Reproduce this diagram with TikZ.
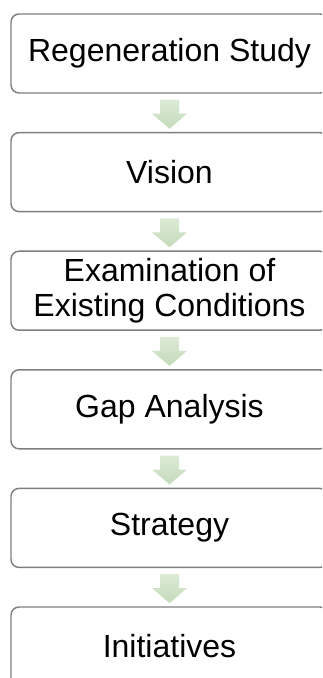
\documentclass[tikz,border=0pt]{standalone}
\usepackage{fontspec}
\setmainfont{Liberation Sans}
\usetikzlibrary{calc}
\definecolor{boxline}{HTML}{7F7F7F}
\definecolor{arrtop}{HTML}{DCEAD6}
\definecolor{arrbot}{HTML}{C4DBB9}
\tikzset{
  stepbox/.style={draw=boxline, line width=1.1pt, fill=white, rounded corners=6pt,
    minimum width=317*0.75pt, minimum height=79*0.75pt, inner sep=0pt,
    align=center, font=\fontsize{24}{26.5}\selectfont, text=black},
  flowarrow/.style={top color=arrtop, bottom color=arrbot, draw=none}
}
\newcommand{\flowarr}[1]{%
  \path[flowarrow] ($(#1.south)+(-9.5,6)$) -- ($(#1.south)+(9.5,6)$) --
    ($(#1.south)+(9.5,20)$) -- ($(#1.south)+(17.5,20)$) --
    ($(#1.south)+(0,35)$) -- ($(#1.south)+(-17.5,20)$) --
    ($(#1.south)+(-9.5,20)$) -- cycle;}
\begin{document}
\begin{tikzpicture}[x=0.75pt,y=-0.75pt]
\useasboundingbox (0,0) rectangle (322,678);
\clip (0,0) rectangle (322,678);
\node[stepbox] (s1) at (169.5,53.5) {Regeneration Study};
\node[stepbox] (s2) at (169.5,172.1) {Vision};
\node[stepbox] (s3) at (169.5,290.7) {Examination of\\Existing Conditions};
\node[stepbox] (s4) at (169.5,409.3) {Gap Analysis};
\node[stepbox] (s5) at (169.5,527.9) {Strategy};
\node[stepbox] (s6) at (169.5,646.5) {Initiatives};
\flowarr{s1}
\flowarr{s2}
\flowarr{s3}
\flowarr{s4}
\flowarr{s5}
\end{tikzpicture}
\end{document}
